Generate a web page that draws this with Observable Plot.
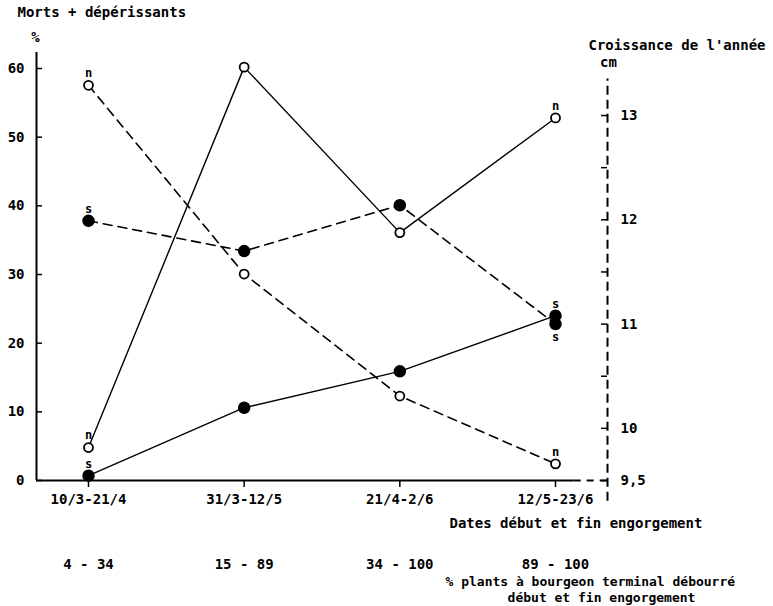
<!DOCTYPE html>
<html>
<head>
<meta charset="utf-8">
<script src="https://cdn.jsdelivr.net/npm/d3@7"></script>
<script src="https://cdn.jsdelivr.net/npm/@observablehq/plot@0.6"></script>
<style>
  html, body { margin: 0; padding: 0; background: white; }
</style>
</head>
<body>
<div id="chart"></div>
<script>
// ---- Data ----
const categories = ["10/3-21/4", "31/3-12/5", "21/4-2/6", "12/5-23/6"];
const budburst = ["4 - 34", "15 - 89", "34 - 100", "89 - 100"];

// Morts + dépérissants (%), solid lines
const mortN = [4.8, 60.2, 36.1, 52.8];
const mortS = [0.7, 10.6, 15.9, 24.0];
// Croissance de l'année (cm), dashed lines
const growthN = [13.29, 11.48, 10.31, 9.66];
const growthS = [11.99, 11.70, 12.14, 11.0];

const leftTicks = [0, 10, 20, 30, 40, 50, 60];
const rightTicks = [9.5, 10, 10.5, 11, 11.5, 12, 12.5, 13];
const rightTickLabels = ["9,5", "10", "", "11", "", "12", "", "13"];

// point annotations: series, category index, text, side
const pointLabels = [
  ["growthN", 0, "n", "above"], ["growthN", 3, "n", "above"],
  ["mortN", 0, "n", "above"], ["mortN", 3, "n", "above"],
  ["growthS", 0, "s", "above"], ["growthS", 3, "s", "below"],
  ["mortS", 0, "s", "above"], ["mortS", 3, "s", "above"]
];

// ---- Scales helpers ----
// right axis (cm) expressed in left-axis units (%)
const cmToPct = d3.scaleLinear().domain([9.5, 13]).range([0, 53.15]);
const xDomain = [-0.334, 3.334];
const yDomain = [0, 62.33];
const tickLen = 0.0385; // inward tick length in x units (~6px)

const rows = (vals, conv) => vals.map((v, i) => ({i, v: conv ? conv(v) : v}));
const series = {
  mortN: rows(mortN),
  mortS: rows(mortS),
  growthN: rows(growthN, cmToPct),
  growthS: rows(growthS, cmToPct)
};
const labelRows = pointLabels.map(([s, i, t, side]) => ({i, v: series[s][i].v, t, side}));
const rightTickPct = rightTicks.map(cmToPct);

const FONT = "DejaVu Sans Mono";
const dash = "9,6";
const txt = {fontSize: 14, lineAnchor: "middle"};

const chart = Plot.plot({
  width: 773,
  height: 606,
  marginLeft: 36,
  marginRight: 166,
  marginTop: 52,
  marginBottom: 126,
  x: {type: "linear", domain: xDomain, axis: null},
  y: {domain: yDomain, axis: null},
  style: {fontFamily: FONT, fontSize: "14px", fontWeight: "bold", background: "white", color: "black"},
  marks: [
    // axis lines
    Plot.ruleX([xDomain[0]], {y1: 0, y2: yDomain[1], stroke: "black", strokeWidth: 2}),
    Plot.ruleY([0], {x1: xDomain[0], x2: 3.12, stroke: "black", strokeWidth: 2}),
    Plot.ruleY([0], {x1: 3.12, x2: xDomain[1], stroke: "black", strokeWidth: 2, strokeDasharray: "7,6"}),
    Plot.ruleX([xDomain[1]], {y1: cmToPct(9.3), y2: cmToPct(13.35), stroke: "black", strokeWidth: 2, strokeDasharray: "9,5"}),

    // inward ticks
    Plot.ruleY(leftTicks, {x1: xDomain[0], x2: xDomain[0] + tickLen, stroke: "black", strokeWidth: 1.5}),
    Plot.ruleY(rightTickPct, {x1: xDomain[1] - tickLen, x2: xDomain[1], stroke: "black", strokeWidth: 1.5}),

    // left axis labels
    Plot.axisY(leftTicks, {anchor: "left", tickSize: 0, tickPadding: 12, label: null,
      tickFormat: d => String(d), fontSize: 14}),
    // right axis labels
    Plot.axisY(rightTickPct, {anchor: "right", tickSize: 0, tickPadding: 13, label: null,
      tickFormat: d => {
        const k = rightTickPct.findIndex(t => Math.abs(t - d) < 1e-6);
        return rightTickLabels[k];
      }, fontSize: 14}),
    // x axis
    Plot.axisX([0, 1, 2, 3], {anchor: "bottom", tickSize: 7, tickPadding: 7, strokeWidth: 1.5, label: null,
      tickFormat: i => categories[i], fontSize: 14}),
    Plot.axisX([0, 1, 2, 3], {anchor: "bottom", tickSize: 0, tickPadding: 79, label: null,
      tickFormat: i => budburst[i], fontSize: 14}),

    // lines
    Plot.line(series.mortN, {x: "i", y: "v", stroke: "black", strokeWidth: 1.4}),
    Plot.line(series.mortS, {x: "i", y: "v", stroke: "black", strokeWidth: 1.4}),
    Plot.line(series.growthN, {x: "i", y: "v", stroke: "black", strokeWidth: 1.6, strokeDasharray: dash}),
    Plot.line(series.growthS, {x: "i", y: "v", stroke: "black", strokeWidth: 1.6, strokeDasharray: dash}),

    // points
    Plot.dot([...series.mortN, ...series.growthN], {x: "i", y: "v", r: 4.5, fill: "white", stroke: "black", strokeWidth: 1.8}),
    Plot.dot([...series.mortS, ...series.growthS], {x: "i", y: "v", r: 5.5, fill: "black", stroke: "black"}),

    // n / s labels
    Plot.text(labelRows.filter(d => d.side === "above"), {x: "i", y: "v", text: "t", dy: -12, fontSize: 12, fontWeight: "bold"}),
    Plot.text(labelRows.filter(d => d.side === "below"), {x: "i", y: "v", text: "t", dy: 13, fontSize: 12, fontWeight: "bold"}),

    // titles
    Plot.text(["Morts + dépérissants"], {...txt, frameAnchor: "top-left", textAnchor: "start", dx: -19, dy: -40}),
    Plot.text(["%"], {...txt, frameAnchor: "top-left", textAnchor: "middle", dx: -1, dy: -15}),
    Plot.text(["Croissance de l'année"], {...txt, frameAnchor: "top-right", textAnchor: "start", dx: -19, dy: -7}),
    Plot.text(["cm"], {...txt, frameAnchor: "top-right", textAnchor: "middle", dx: 1, dy: 10}),
    Plot.text(["Dates début et fin engorgement"], {...txt, frameAnchor: "bottom-right", textAnchor: "start", dx: -158, dy: 43}),
    Plot.text(["% plants à bourgeon terminal débourré"], {...txt, fontSize: 13, frameAnchor: "bottom-right", textAnchor: "start", dx: -162, dy: 101}),
    Plot.text(["début et fin engorgement"], {...txt, fontSize: 13, frameAnchor: "bottom-right", textAnchor: "middle", dx: -6, dy: 117.5})
  ]
});
document.getElementById("chart").append(chart);
</script>
</body>
</html>
